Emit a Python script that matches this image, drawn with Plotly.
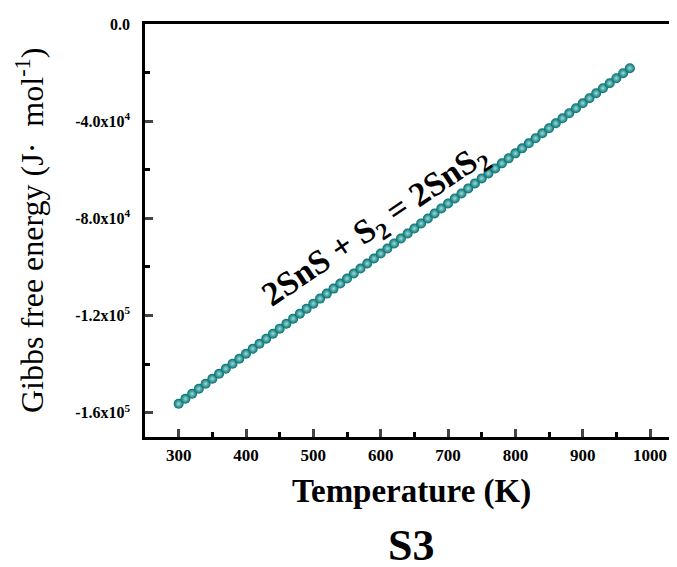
import plotly.graph_objects as go

temperature = [300, 310, 320, 330, 340, 350, 360, 370, 380, 390,
               400, 410, 420, 430, 440, 450, 460, 470, 480, 490,
               500, 510, 520, 530, 540, 550, 560, 570, 580, 590,
               600, 610, 620, 630, 640, 650, 660, 670, 680, 690,
               700, 710, 720, 730, 740, 750, 760, 770, 780, 790,
               800, 810, 820, 830, 840, 850, 860, 870, 880, 890,
               900, 910, 920, 930, 940, 950, 960, 970]
gibbs = [-156340, -154280, -152220, -150150, -148090, -146030, -143970, -141910, -139840, -137780,
         -135720, -133660, -131600, -129530, -127470, -125410, -123350, -121290, -119220, -117160,
         -115100, -113040, -110980, -108910, -106850, -104790, -102730, -100670, -98600, -96540,
         -94480, -92420, -90360, -88290, -86230, -84170, -82110, -80050, -77980, -75920,
         -73860, -71800, -69740, -67670, -65610, -63550, -61490, -59430, -57360, -55300,
         -53240, -51180, -49120, -47050, -44990, -42930, -40870, -38810, -36740, -34680,
         -32620, -30560, -28500, -26430, -24370, -22310, -20250, -18190]

x_ticks = [300, 400, 500, 600, 700, 800, 900, 1000]
y_ticks = [0, -40000, -80000, -120000, -160000]
y_tick_text = ["0.0", "-4.0x10<sup>4</sup>", "-8.0x10<sup>4</sup>",
               "-1.2x10<sup>5</sup>", "-1.6x10<sup>5</sup>"]

FONT = "Liberation Serif, Times New Roman, serif"

fig = go.Figure()
fig.add_trace(go.Scatter(
    x=temperature, y=gibbs, mode="markers",
    marker=dict(size=10, color="#006e6e",
                gradient=dict(type="radial", color="#9adcda"),
                line=dict(width=0)),
    showlegend=False,
))

fig.update_layout(
    width=669, height=559,
    margin=dict(l=137, r=0, t=16, b=130),
    plot_bgcolor="white", paper_bgcolor="white",
    font=dict(family=FONT, color="black"),
    xaxis=dict(
        range=[250, 1040], tickvals=x_ticks, ticks="inside", ticklen=8, tickwidth=2.5,
        showline=True, linewidth=2.5, linecolor="black", mirror=True,
        showgrid=False, zeroline=False,
        tickfont=dict(family=FONT, size=17, color="black", weight="bold"),
        ticklabelstandoff=1,
        minor=dict(tickvals=[350, 450, 550, 650, 750, 850, 950], ticks="inside",
                   ticklen=5, tickwidth=2.5, tickcolor="black"),
    ),
    yaxis=dict(
        range=[-170000, 0], tickvals=y_ticks, ticktext=y_tick_text,
        ticks="inside", ticklen=8, tickwidth=2.5,
        showline=True, linewidth=2.5, linecolor="black",
        showgrid=False, zeroline=False,
        tickfont=dict(family=FONT, size=16, color="black", weight="bold"),
        ticklabelstandoff=9,
        minor=dict(tickvals=[-20000, -60000, -100000, -140000], ticks="inside",
                   ticklen=5, tickwidth=2.5, tickcolor="black"),
    ),
    annotations=[
        dict(text="Temperature (K)", xref="paper", yref="paper", x=0.5, y=-0.133,
             xanchor="center", yanchor="middle", showarrow=False,
             font=dict(family=FONT, size=33, weight="bold")),
        dict(text="S3", xref="paper", yref="paper", x=0.5, y=-0.262,
             xanchor="center", yanchor="middle", showarrow=False,
             font=dict(family=FONT, size=44, weight="bold")),
        dict(text="Gibbs free energy (J·  mol<sup>-1</sup>)", xref="paper", yref="paper",
             x=-0.217, y=0.5, xanchor="center", yanchor="middle", showarrow=False,
             textangle=-90, font=dict(family=FONT, size=32)),
        dict(text="2SnS + S<sub>2</sub> = 2SnS<sub>2</sub>", x=593, y=-83000,
             xref="x", yref="y", xanchor="center", yanchor="middle", showarrow=False,
             textangle=-34, font=dict(family=FONT, size=34, weight="bold")),
    ],
)

fig.write_html("out.html")
